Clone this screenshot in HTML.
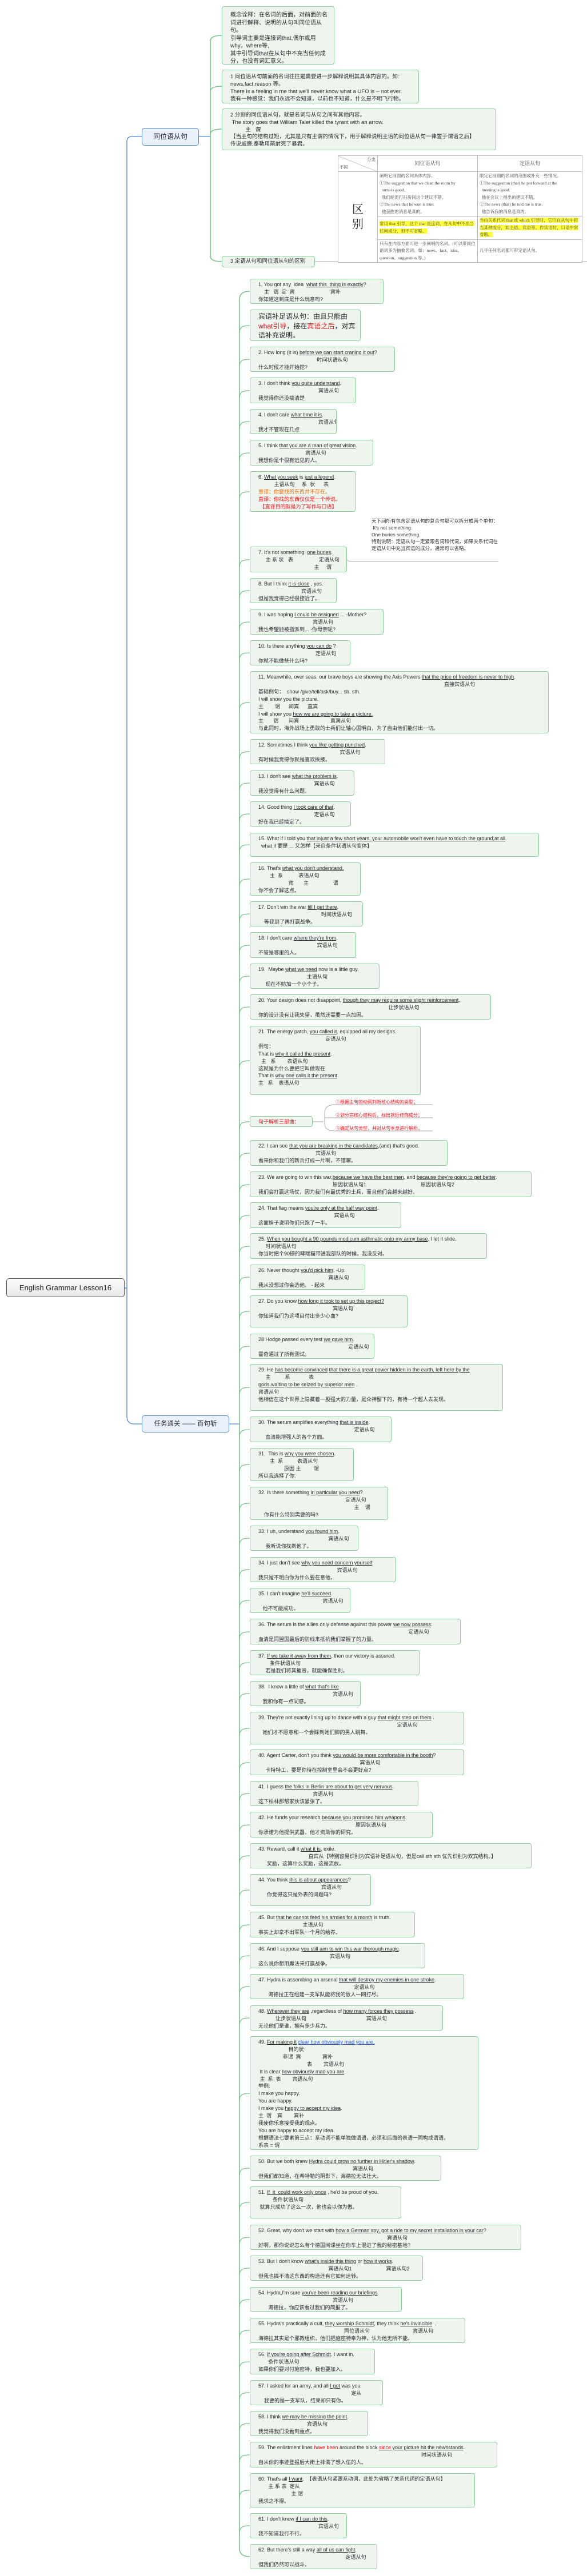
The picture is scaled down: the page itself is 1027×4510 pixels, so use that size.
<!DOCTYPE html>
<html><head><meta charset="utf-8"><style>
body{margin:0;width:1027px;height:4510px;background:#fff;position:relative;overflow:hidden;font-family:"Liberation Sans","Noto Sans CJK SC",sans-serif;}
.n{position:absolute;left:437px;border:1px solid #8ccf9c;background:#eef5ef;border-radius:4px;box-sizing:border-box;padding:3px 0 0 14px;font-size:9px;line-height:12.9px;color:#2a2a2a;white-space:pre;overflow:hidden;z-index:2}
.t{left:388px}
u{text-decoration:underline}
.r{color:#e8141b}.o{color:#f06a00}.b{color:#2a5bd7}
svg{position:absolute;left:0;top:0;z-index:1}
.main{position:absolute;border-radius:5px;box-sizing:border-box;text-align:center;z-index:2}
table{border-collapse:collapse;font-family:"Liberation Serif","Noto Serif CJK SC",serif;font-size:7.5px;color:#444;line-height:12.5px}
td{border:1px solid #bbb;vertical-align:top;padding:1px 3px}
.hl{background:#ffff3a}
</style></head><body>
<svg width="1027" height="4510">
<g fill="none" stroke="#78c48c" stroke-width="1.6">
<path d="M368,72 Q368,62 388,62 M368,72 L368,448 Q368,458 388,458 M368,160 Q368,151 388,151 M368,235 Q368,226 388,226"/>
<path d="M419,524 L419,4462 Q419,4476 437,4476"/>
<path d="M419,524 Q419,510 437,510"/>
</g>
<g fill="none" stroke="#78c48c" stroke-width="1.2" id="cn"></g>
<g fill="none" stroke="#4f86c9" stroke-width="1.3">
<path d="M218,2255 L222,2255 M222,2480 L222,247 Q222,239 232,239 L248,239 M222,2480 Q222,2493 235,2493 L248,2493"/>
<path d="M348,239 L368,239 M401,2493 L419,2493"/>
</g>
<g fill="none" stroke="#aaa" stroke-width="1">
<path d="M551,458 L1027,458 M607,980 L611,983 L872,983"/>
<path d="M547,1964 L566,1964 M587,1934 Q568,1934 568,1948 L568,1968 Q568,1980 587,1980 L757,1980 M587,1934 L757,1934 M568,1957 L757,1957"/>
</g>
</svg>
<script>
var m=[570,629,684,738,793,861,980,1034,1089,1143,1230,1316,1371,1425,1479,1539,1600,1655,1709,1763,1857,1964,2019,2074,2128,2182,2236,2296,2357,2429,2503,2564,2632,2693,2748,2802,2857,2911,2965,3026,3086,3140,3195,3249,3309,3370,3424,3478,3533,3665,3796,3856,3917,3971,4026,4080,4135,4189,4243,4298,4360,4422];
var s='';m.forEach(function(y){s+='<path d="M419,'+(y+14)+' C419,'+(y+2)+' 424,'+y+' 437,'+y+'"/>';});
document.getElementById('cn').innerHTML=s;
</script>

<div class="main" style="left:11px;top:2238px;width:207px;height:33px;border:1px solid #555;background:linear-gradient(#fbfbfb,#e9e9e9);font-size:13px;line-height:31px;color:#222">English Grammar Lesson16</div>
<div class="main" style="left:248px;top:224px;width:100px;height:31px;border:1px solid #5b8bd0;background:#e9f1fb;font-size:12px;line-height:29px;color:#223">同位语从句</div>
<div class="main" style="left:248px;top:2478px;width:153px;height:30px;border:1px solid #5b8bd0;background:#e9f1fb;font-size:11.5px;line-height:28px;color:#223">任务通关 —— 百句斩</div>

<div class="n t" style="top:11px;height:102px;width:197px;font-size:10px;line-height:13.5px;padding-top:8px">概念诠释：在名词的后面，对前面的名<br>词进行解释、说明的从句叫同位语从<br>句。<br>引导词主要是连接词that,偶尔或用<br>why，where等,<br>其中引导词that在从句中不充当任何成<br>分，也没有词汇意义。</div>
<div class="n t" style="top:122px;height:59px;width:345px;font-size:9.5px;line-height:13px;padding-top:5px">1.同位语从句前面的名词往往是需要进一步解释说明其具体内容的。如:<br>news,fact,reason 等。<br>There is a feeling in me that we'll never know what a UFO is -- not ever.<br>我有一种感觉：我们永远不会知道，以前也不知道，什么是不明飞行物。</div>
<div class="n t" style="top:190px;height:73px;width:480px;font-size:9.5px;line-height:12.8px;padding-top:5px">2.分割的同位语从句，就是名词与从句之间有其他内容。<br> The story goes that William Taler killed the tyrant with an arrow.<br>          主   谓<br>【当主句的结构过短，尤其是只有主谓的情况下，用于解释说明主语的同位语从句一律置于谓语之后】<br>传说威廉.泰勒用箭射死了暴君。</div>
<div class="n t" style="top:448px;height:20px;width:163px;font-size:9.5px;padding-top:3px">3.定语从句和同位语从句的区别</div>

<div style="position:absolute;left:591px;top:272px;z-index:2;background:#fff">
<table style="width:428px;height:185px">
<tr style="height:28px"><td style="width:62px;position:relative;background:linear-gradient(to top right,#fff 49%,#999 50%,#fff 51%)"><span style="position:absolute;right:3px;top:1px">分类</span><span style="position:absolute;left:2px;bottom:1px">不同</span></td><td style="width:168px;text-align:center;vertical-align:middle;font-size:9px">同位语从句</td><td style="text-align:center;vertical-align:middle;font-size:9px">定语从句</td></tr>
<tr style="height:78px"><td rowspan="3" style="text-align:center;vertical-align:middle;font-size:20px;line-height:26px;color:#222">区<br>别</td><td>阐明它前面的名词具体内容。<br>①The suggestion that we clean the room by<br>&nbsp;&nbsp;turns is good.<br>&nbsp;&nbsp;我们轮流打扫房间这个建议不错。<br>②The news that he won is true.<br>&nbsp;&nbsp;他获胜的消息是真的。</td><td>限定它前面的名词的范围或补充一些情况。<br>①The suggestion (that) he put forward at the<br>&nbsp;&nbsp;meeting is good.<br>&nbsp;&nbsp;他在会议上提出的建议不错。<br>②The news (that) he told me is true.<br>&nbsp;&nbsp;他告诉我的消息是真的。</td></tr>
<tr style="height:39px"><td style="vertical-align:middle"><span class="hl">常用 that 引导，这个 that 是连词，在从句中不担当任何成分，但不可省略。</span></td><td><span class="hl">当由关系代词 that 或 which 引导时，它们在从句中担当某种成分，如主语、宾语等。作宾语时，口语中常省略。</span></td></tr>
<tr style="height:40px"><td>只有在内容方面可进一步阐明的名词。(可以带同位语词多为抽象名词。如：news、fact、idea、question、suggestion 等。)</td><td style="vertical-align:middle">几乎任何名词都可带定语从句。</td></tr>
</table></div>

<div style="position:absolute;left:650px;top:906px;width:225px;font-size:8.5px;line-height:12px;color:#333;z-index:2">天下间所有包含定语从句的复合句都可以拆分成两个单句：<br>&nbsp;It's not something.<br>One buries something.<br>特别说明：定语从句一定紧跟名词和代词，如果关系代词在定语从句中充当宾语的成分，通常可以省略。</div>

<div style="position:absolute;left:587px;top:1925px;font-size:8px;line-height:10px;color:#e8141b;z-index:2">①根据主句的动词判断核心结构的类型；</div>
<div style="position:absolute;left:587px;top:1948px;font-size:8px;line-height:10px;color:#e8141b;z-index:2">②划分完核心结构后，标出就近修饰成分；</div>
<div style="position:absolute;left:587px;top:1971px;font-size:8px;line-height:10px;color:#e8141b;z-index:2">③确定从句类型，并对从句本身进行解析。</div>

<div class="n" style="top:488px;height:44px;width:234px">1. You got any  idea  <u>what this  thing is exactly</u>?<br>    主   谓  定  宾                         宾补<br>你知道这到底是什么玩意吗?</div>
<div class="n" style="top:542px;height:55px;width:194px;font-size:12px;line-height:16.5px;padding-top:3px">宾语补足语从句：由且只能由<br><span class="r">what引导</span>，接在<span class="r">宾语之后</span>，对宾<br>语补充说明。</div>
<div class="n" style="top:607px;height:44px;width:254px">2. How long (it is) <u>before we can start craning it out</u>?<br>                                         时间状语从句<br>什么时候才能开始挖?</div>
<div class="n" style="top:661px;height:45px;width:186px">3. I don't think <u>you quite understand</u>.<br>                                          宾语从句<br>我觉得你还没搞清楚</div>
<div class="n" style="top:716px;height:44px;width:152px">4. I don't care <u>what time it is</u>.<br>                                          宾语从句<br>我才不管现在几点</div>
<div class="n" style="top:770px;height:45px;width:216px">5. I think <u>that you are a man of great vision</u>.<br>                                 宾语从句<br>我想你是个很有远见的人。</div>
<div class="n" style="top:825px;height:71px;width:185px">6. <u>What you seek</u> is <u>just a legend</u>.<br>           主语从句     系  状      表<br><span class="o">意译：你要找的东西并不存在。</span><br><span class="r">直译：你找的东西仅仅是一个传说。</span><br><span class="r"> 【直译目的就是为了写作与口语】</span></div>
<div class="n" style="top:957px;height:45px;width:170px">7. It's not something  <u>one buries</u>.<br>     主 系 状   表                  定语从句<br>                                       主     谓</div>
<div class="n" style="top:1012px;height:44px;width:152px">8. But I think <u>it is close</u> , yes.<br>                              宾语从句<br>但是我觉得已经很接近了。</div>
<div class="n" style="top:1066px;height:45px;width:234px">9. I was hoping <u>I could be assigned</u> ... -Mother?<br>                                      宾语从句<br>我也希望能被指派到... -你母亲呢?</div>
<div class="n" style="top:1121px;height:44px;width:176px">10. Is there anything <u>you can do</u> ?<br>                                        定语从句<br>你就不能做些什么吗?</div>
<div class="n" style="top:1175px;height:109px;width:523px">11. Meanwhile, over seas, our brave boys are showing the Axis Powers <u>that the price of freedom is never to high</u>.<br>                                                                                                                                  直接宾语从句<br>基础例句：  show /give/tell/ask/buy... sb. sth.<br>I will show you the picture.<br>主        谓      间宾      直宾<br>I will show you <u>how we are going to take a picture.</u><br>主       谓       间宾                      直宾从句<br>与此同时，海外战场上勇敢的士兵们让轴心国明白，为了自由他们能付出一切。</div>
<div class="n" style="top:1294px;height:44px;width:237px">12. Sometimes I think <u>you like getting punched</u>.<br>                                                         宾语从句<br>有时候我觉得你就是喜欢挨揍。</div>
<div class="n" style="top:1349px;height:44px;width:183px">13. I don't see <u>what the problem is</u>.<br>                                       宾语从句<br>我没觉得有什么问题。</div>
<div class="n" style="top:1403px;height:44px;width:177px">14. Good thing <u>I took care of that</u>.<br>                                       定语从句<br>好在我已经搞定了。</div>
<div class="n" style="top:1458px;height:42px;width:506px">15. What if I told you <u>that injust a few short years, your automobile won't even have to touch the ground,at all</u>.<br>  what if 要是 ... 又怎样【来自条件状语从句变体】</div>
<div class="n" style="top:1510px;height:58px;width:194px">16. That's <u>what you don't understand.</u><br>        主  系           表语从句<br>                     宾       主                 谓<br>你不会了解这点。</div>
<div class="n" style="top:1578px;height:44px;width:198px">17. Don't win the war <u>till I get there</u>.<br>                                            时间状语从句<br>    等我到了再打赢战争。</div>
<div class="n" style="top:1632px;height:45px;width:186px">18. I don't care <u>where they're from</u>.<br>                                         宾语从句<br>不管是哪里的人。</div>
<div class="n" style="top:1687px;height:44px;width:227px">19.  Maybe <u>what we need</u> now is a little guy.<br>                                  主语从句<br>     现在不妨加一个小个子。</div>
<div class="n" style="top:1741px;height:44px;width:422px">20. Your design does not disappoint, <u>though they may require some slight reinforcement</u>.<br>                                                                                           让步状语从句<br>你的设计没有让我失望，虽然还需要一点加固。</div>
<div class="n" style="top:1796px;height:121px;width:299px">21. The energy patch, <u>you called it</u>, equipped all my designs.<br>                                               定语从句<br>例句：<br>That is <u>why it called the present</u>.<br>  主   系        表语从句<br>这就是为什么要把它叫做现在<br>That is <u>why one calls it the present</u>.<br>主   系    表语从句</div>
<div class="n" style="top:1954px;height:19px;width:110px;color:#e8141b;padding-top:3px">句子解析三部曲：</div>
<div class="n" style="top:1996px;height:45px;width:346px">22. I can see <u>that you are breaking in the candidates</u>,(and) that's good.<br>                                        宾语从句<br>看来你和我们的新兵打成一片啊，不错嘛。</div>
<div class="n" style="top:2051px;height:45px;width:493px">23. We are going to win this war,<u>because we have the best men</u>, and <u>because they're going to get better</u>.<br>                                                    原因状语从句1                                      原因状语从句2<br>我们会打赢这场仗，因为我们有最优秀的士兵，而且他们会越来越好。</div>
<div class="n" style="top:2105px;height:45px;width:265px">24. That flag means <u>you're only at the half way point</u>.<br>                                                     宾语从句<br>这面旗子说明你们只跑了一半。</div>
<div class="n" style="top:2159px;height:45px;width:415px">25. <u>When you bought a 90 pounds modicum asthmatic onto my army base</u>, I let it slide.<br>     时间状语从句<br>你当时把个90磅的哮喘猫带进我部队的时候，我没反对。</div>
<div class="n" style="top:2214px;height:44px;width:202px">26. Never thought <u>you'd pick him</u>. -Up.<br>                                                 宾语从句<br>我从没想过你会选他。 - 起来</div>
<div class="n" style="top:2268px;height:56px;width:276px">27. Do you know <u>how long it took to set up this project?</u><br>                                                    宾语从句<br>你知道我们为这项目付出多少心血?</div>
<div class="n" style="top:2335px;height:44px;width:218px">28 Hodge passed every test <u>we gave him</u>.<br>                                                               定语从句<br>霍奇通过了所有测试。</div>
<div class="n" style="top:2388px;height:82px;width:443px">29. He <u>has become convinced</u> <u>that there is a great power hidden in the earth, left here by the</u><br>     主          系             表<br><u>gods,waiting to be seized by superior men</u> .<br>宾语从句<br>他相信在这个世界上隐藏着一股强大的力量，是众神留下的，有待一个超人去发现。</div>
<div class="n" style="top:2480px;height:45px;width:248px">30. The serum amplifies everything <u>that is inside</u>.<br>                                                                   定语从句<br>     血清能增强人的各个方面。</div>
<div class="n" style="top:2535px;height:58px;width:182px">31.  This is <u>why you were chosen</u>.<br>        主  系          表语从句<br>                  原因 主         谓<br>所以我选择了你.</div>
<div class="n" style="top:2603px;height:58px;width:242px">32. Is there something <u>in particular you need</u>?<br>                                                             定语从句<br>                                                                   主    谓<br>    你有什么特别需要的吗?</div>
<div class="n" style="top:2671px;height:44px;width:190px">33. I uh, understand <u>you found him</u>.<br>                                                 宾语从句<br>     我听说你找到他了。</div>
<div class="n" style="top:2726px;height:44px;width:256px">34. I just don't see <u>why you need concern yourself</u>.<br>                                                       宾语从句<br>我只是不明白你为什么要在意他。</div>
<div class="n" style="top:2780px;height:44px;width:176px">35. I can't imagine <u>he'll succeed</u>.<br>                                             宾语从句<br>   他不可能成功。</div>
<div class="n" style="top:2834px;height:45px;width:369px">36. The serum is the allies only defense against this power <u>we now possess</u>.<br>                                                                                                         定语从句<br>血清是同盟国最后的防线来抵抗我们掌握了的力量。</div>
<div class="n" style="top:2889px;height:44px;width:297px">37. <u>If we take it away from them</u>, then our victory is assured.<br>        条件状语从句<br>     若是我们将其摧毁，就能确保胜利。</div>
<div class="n" style="top:2943px;height:44px;width:194px">38.  I know a little of <u>what that's like</u> .<br>                                                    宾语从句<br>   我和你有一点同感。</div>
<div class="n" style="top:2997px;height:57px;width:375px">39. They're not exactly lining up to dance with a guy <u>that might step on them</u> .<br>                                                                                                 定语从句<br>   她们才不愿意和一个会踩到她们脚的男人跳舞。</div>
<div class="n" style="top:3063px;height:45px;width:375px">40. Agent Carter, don't you think <u>you would be more comfortable in the booth</u>?<br>                                                                       宾语从句<br>     卡特特工，要是你待在控制室里会不会更好点?</div>
<div class="n" style="top:3118px;height:44px;width:295px">41. I guess <u>the folks in Berlin are about to get very nervous</u>.<br>                                      宾语从句<br>这下柏林那帮家伙该紧张了。</div>
<div class="n" style="top:3172px;height:45px;width:320px">42. He funds your research <u>because you promised him weapons</u>.<br>                                                                    原因状语从句<br>你承诺为他提供武器，他才资助你的研究。</div>
<div class="n" style="top:3227px;height:44px;width:493px">43. Reward, call it <u>what it is</u>, exile.<br>                                   直宾从【特别容易识别为宾语补足语从句，但是call sth sth 优先识别为双宾结构。】<br>      奖励，这算什么奖励，这是流放。</div>
<div class="n" style="top:3281px;height:56px;width:212px">44. You think <u>this is about appearances</u>?<br>                                            宾语从句<br>      你觉得这只是外表的问题吗?</div>
<div class="n" style="top:3347px;height:45px;width:289px">45. But <u>that he cannot feed his armies for a month</u> is truth.<br>                               主语从句<br>事实上却拿不出军队一个月的给养。</div>
<div class="n" style="top:3402px;height:44px;width:307px">46. And I suppose <u>you still aim to win this war thorough magic</u>.<br>                                                  宾语从句<br>这么说你想用魔法来打赢战争。</div>
<div class="n" style="top:3456px;height:44px;width:375px">47. Hydra is assembing an arsenal <u>that will destroy my enemies in one stroke</u>.<br>                                                                   定语从句<br>       海德拉正在组建一支军队能将我的敌人一网打尽。</div>
<div class="n" style="top:3511px;height:44px;width:338px">48. <u>Wherever they are</u> ,regardless of <u>how many forces they possess</u> .<br>            让步状语从句                                          宾语从句<br>无论他们是谁，拥有多少兵力。</div>
<div class="n" style="top:3565px;height:199px;width:400px">49. <u>For making it</u> <u class="b">clear how obviously mad you are.</u><br>                     目的状<br>                 非谓  宾               宾补<br>                                  表        宾语从句<br> It is clear <u>how obviously mad you are</u>.<br> 主  系  表        宾语从句<br>举例:<br>I make you happy.<br>You are happy.<br>I make you <u>happy to accept my idea</u>.<br>主  谓    宾        宾补<br>我使你乐意接受我的观点。<br>You are happy to accept my idea.<br>根据语法七要素第三点：系动词不能单独做谓语，必须和后面的表语一同构成谓语。<br>系表 = 谓</div>
<div class="n" style="top:3774px;height:44px;width:335px">50. But we both knew <u>Hydra could grow no further in Hitler's shadow</u>.<br>                                                                  宾语从句<br>但我们都知道，在希特勒的阴影下，海德拉无法壮大。</div>
<div class="n" style="top:3828px;height:56px;width:265px">51. <u>If  it  could work only once</u> , he'd be proud of you.<br>          条件状语从句<br> 就算只成功了这么一次，他也会以你为傲。</div>
<div class="n" style="top:3895px;height:44px;width:475px">52. Great, why don't we start with <u>how a German spy, got a ride to my secret installation in your car</u>?<br>                                                                                          宾语从句<br>好啊，那你说说怎么有个德国间谍坐在你车上混进了我的秘密基地?</div>
<div class="n" style="top:3949px;height:44px;width:303px">53. But I don't know <u>what's inside this thing</u> or <u>how it works</u>.<br>                                                 宾语从句1                        宾语从句2<br>但我也搞不清这东西的构造还有它如何运转。</div>
<div class="n" style="top:4004px;height:43px;width:266px">54. Hydra,I'm sure <u>you've been reading our briefings</u>.<br>                                                    宾语从句<br>       海德拉，你应该看过我们的简报了。</div>
<div class="n" style="top:4058px;height:44px;width:377px">55. Hydra's practically a cult, <u>they worship Schmidt</u>, they think <u>he's invincible</u>  .<br>                                                            同位语从句                              宾语从句<br>海德拉其实是个邪教组织，他们把施密特奉为神，认为他无所不能。</div>
<div class="n" style="top:4112px;height:45px;width:219px">56. <u>If you're going after Schmidt</u>, I want in.<br>       条件状语从句<br>如果你们要对付施密特，我也要加入。</div>
<div class="n" style="top:4167px;height:44px;width:233px">57. I asked for an army, and all <u>I got</u> was you.<br>                                                                 定从<br>    我要的是一支军队，结果却只有你。</div>
<div class="n" style="top:4221px;height:44px;width:207px">58. I think <u>we may be missing the point</u>.<br>                                  宾语从句<br>我觉得我们没看到重点。</div>
<div class="n" style="top:4275px;height:45px;width:433px">59. The enlistment lines <span class="r">have been</span> around the block <u><span class="r">since</span> your picture hit the newsstands</u>.<br>                                                                                                                  时间状语从句<br>自从你的事迹登报后大街上排满了想入伍的人。</div>
<div class="n" style="top:4330px;height:60px;width:394px">60. That's all <u>I want</u>.  【表语从句紧跟系动词，此处为省略了关系代词的定语从句】<br>       主 系 表  定从<br>                       主 谓<br>我求之不得。</div>
<div class="n" style="top:4400px;height:44px;width:170px">61. I don't know <u>if I can do this</u>.<br>                                          宾语从句<br>我不知道我行不行。</div>
<div class="n" style="top:4454px;height:44px;width:223px">62. But there's still a way <u>all of us can fight</u>.<br>                                                             定语从句<br>但我们仍然可以战斗。</div>
</body></html>
